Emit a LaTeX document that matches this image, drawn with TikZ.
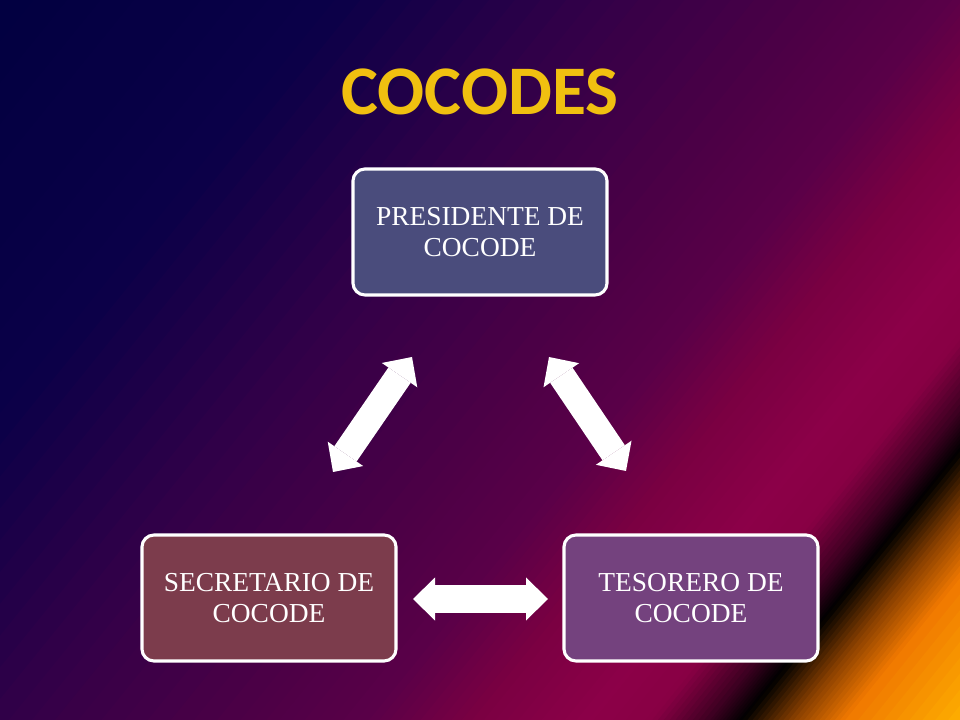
\documentclass[tikz,border=0pt]{standalone}
\usepackage{fontspec}
\setmainfont{Liberation Serif}
\newfontfamily\titlefont{Carlito}
\usetikzlibrary{arrows.meta}

%background stops
\definecolor{bgA}{HTML}{020040}
\definecolor{bgB}{HTML}{0A0048}
\definecolor{bgC}{HTML}{320048}
\definecolor{bgD}{HTML}{4C0046}
\definecolor{bgE}{HTML}{5A0048}
\definecolor{bgF}{HTML}{7A0042}
\definecolor{bgG}{HTML}{8C0048}
\definecolor{bgH}{HTML}{880044}
\definecolor{bgI}{HTML}{3A0020}
\definecolor{bgJ}{HTML}{000000}
\definecolor{bgK}{HTML}{8A4000}
\definecolor{bgL}{HTML}{F07800}
\definecolor{bgM}{HTML}{FFB400}
%boxes
\definecolor{presfill}{HTML}{4A4C7C}
\definecolor{secfill}{HTML}{7C3C4C}
\definecolor{tesfill}{HTML}{74427E}
\definecolor{titlegold}{HTML}{F0C010}

\tikzset{
  cargo/.style={draw=white, line width=2.2pt, rounded corners=0.3cm,
    minimum width=6.35cm, minimum height=3.15cm, align=center,
    text=white, font=\fontsize{19.5}{21.5}\selectfont},
  flecha/.style={white, line width=0.675cm,
    {Triangle[length=0.55cm,width=1.075cm,line width=0pt]}-{Triangle[length=0.55cm,width=1.075cm,line width=0pt]}}
}

\begin{document}
\begin{tikzpicture}[x=0.025cm, y=-0.025cm]
\useasboundingbox (0,0) rectangle (960,720);
%background
\begin{scope}
\clip (0,0) rectangle (960,720);
\foreach \ta/\tb/\ca/\cb in {0/260/bgA/bgB, 260/460/bgB/bgC, 460/640/bgC/bgD,
  640/740/bgD/bgE, 740/820/bgE/bgF, 820/910/bgF/bgG, 910/960/bgG/bgH,
  960/1005/bgH/bgI, 1005/1030/bgI/bgJ, 1030/1070/bgJ/bgK, 1070/1110/bgK/bgL,
  1110/1210/bgL/bgM}{
  \foreach \k in {0,...,9}{
    \pgfmathsetmacro\sa{\ta+(\tb-\ta)*\k/10}
    \pgfmathsetmacro\sb{\ta+(\tb-\ta)*(\k+1)/10+1}
    \pgfmathtruncatemacro\mix{\k*10+5}
    \fill[\cb!\mix!\ca, rotate=-39] (\sa,-1500) rectangle (\sb,1500);
  }
}
\end{scope}

%title
\node[text=titlegold, font=\titlefont\bfseries\fontsize{49.5}{52}\selectfont] (titulo) at (480,92) {COCODES};

%boxes
\node[cargo, fill=presfill] (pres) at (480,232) {PRESIDENTE DE\\COCODE};
\node[cargo, fill=secfill] (sec) at (269,598) {SECRETARIO DE\\COCODE};
\node[cargo, fill=tesfill] (tes) at (691,598) {TESORERO DE\\COCODE};

%arrow ends
\coordinate (ps1) at (412,357);
\coordinate (ps2) at (333,472);
\coordinate (pt1) at (549,357);
\coordinate (pt2) at (626,471);
\coordinate (st1) at (413,599);
\coordinate (st2) at (548,599);

\draw[flecha] (ps1) -- (ps2);
\draw[flecha] (pt1) -- (pt2);
\draw[flecha] (st1) -- (st2);
\end{tikzpicture}
\end{document}
